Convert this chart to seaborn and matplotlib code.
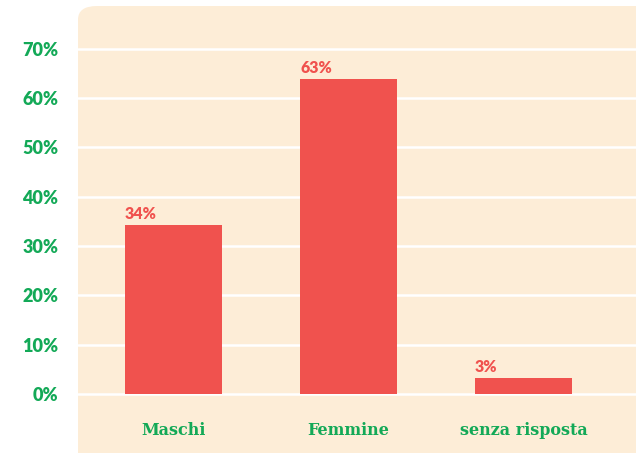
import matplotlib
matplotlib.use('Agg')
import matplotlib.pyplot as plt
import seaborn as sns
import pandas as pd
from matplotlib.patches import FancyBboxPatch

categorie = ['Maschi', 'Femmine', 'senza risposta']
percentuali = [34.3, 63.8, 3.3]
etichette = ['34%', '63%', '3%']
tick_y = [0, 10, 20, 30, 40, 50, 60, 70]

rosso = '#F0524E'
verde = '#13A957'
sfondo = '#FDEDD7'

df = pd.DataFrame({'categoria': categorie, 'perc': percentuali})

sns.set_theme(style='white')
plt.rcParams['font.family'] = ['Lato', 'DejaVu Sans']

fig = plt.figure(figsize=(6.36, 4.53), dpi=100)
W, H = 636, 453
ax = fig.add_axes([78 / W, 0, (W - 78) / W, (H - 6) / H])
ax.set_facecolor('none')

# pannello con angolo arrotondato, dietro agli assi
pannello = FancyBboxPatch((78 / W, -0.1), 1.0, (H - 6) / H + 0.1,
                          boxstyle='round,pad=0,rounding_size=0.03',
                          transform=fig.transFigure, facecolor=sfondo,
                          edgecolor='none', zorder=-5)
fig.patches.append(pannello)

sns.barplot(data=df, x='categoria', y='perc', color=rosso, saturation=1,
            width=0.554, linewidth=0, ax=ax, zorder=3)

for t in tick_y:
    ax.axhline(t, color='white', lw=1.8, zorder=1)

for barra, testo in zip(ax.patches, etichette):
    ax.text(barra.get_x(), barra.get_height() + 0.6, testo, ha='left', va='bottom',
            color=rosso, fontsize=11.5, fontweight='heavy', zorder=4)

ax.set_xlim(-0.546, 2.643)
ax.set_ylim(-12, 78.7)
ax.set_yticks(tick_y)
ax.set_yticklabels([f'{t}%' for t in tick_y])
ax.tick_params(axis='y', length=0, pad=14, labelsize=13, labelcolor=verde)
ax.tick_params(axis='x', length=0, pad=-22, labelsize=11.5, labelcolor=verde)
for lab in ax.get_yticklabels():
    lab.set_fontweight('heavy')
for lab in ax.get_xticklabels():
    lab.set_fontweight('bold')
    lab.set_family(['DejaVu Serif'])
ax.set_xlabel('')
ax.set_ylabel('')
sns.despine(ax=ax, left=True, bottom=True)

fig.savefig('out.png', dpi=100)
